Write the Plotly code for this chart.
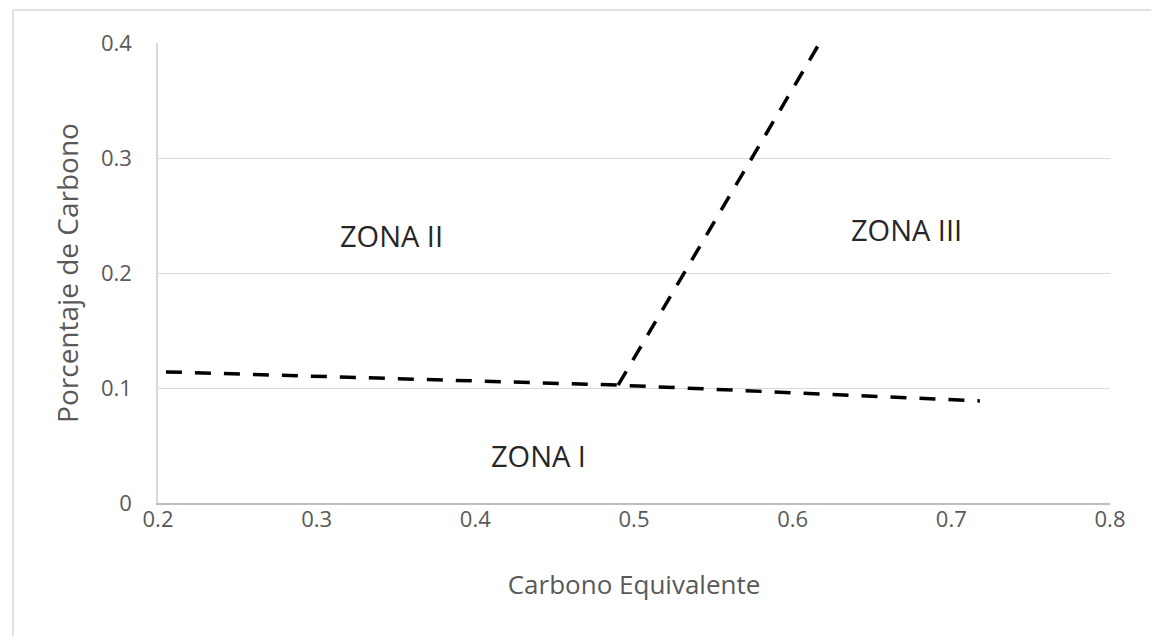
import plotly.graph_objects as go

# Data
line1_x = [0.205, 0.49, 0.718]
line1_y = [0.114, 0.1025, 0.0888]
line2_x = [0.49, 0.617]
line2_y = [0.1025, 0.40]

zone_labels = ["ZONA I", "ZONA II", "ZONA III"]
zone_x = [0.44, 0.347, 0.672]
zone_y = [0.041, 0.233, 0.238]

x_ticks = [0.2, 0.3, 0.4, 0.5, 0.6, 0.7, 0.8]
x_tick_text = ["0.2", "0.3", "0.4", "0.5", "0.6", "0.7", "0.8"]
y_ticks = [0, 0.1, 0.2, 0.3, 0.4]
y_tick_text = ["0", "0.1", "0.2", "0.3", "0.4"]

FONT = "Open Sans"
fig = go.Figure()
line_style = dict(color="black", width=3.5, dash="16px,13px")
fig.add_trace(go.Scatter(x=line1_x, y=line1_y, mode="lines", line=line_style,
                         showlegend=False, hoverinfo="skip"))
fig.add_trace(go.Scatter(x=line2_x, y=line2_y, mode="lines", line=line_style,
                         showlegend=False, hoverinfo="skip"))

for t, x, y in zip(zone_labels, zone_x, zone_y):
    fig.add_annotation(x=x, y=y, text=t, showarrow=False,
                       font=dict(family=FONT, size=29, color="#262626"))

# page has an 8px body margin, so offsets compensate for it
OFF = 8
W, H = 1159, 636
L, R, T, B = 158 - OFF, 49 + OFF, 43 - OFF, 133 + OFF
pw, ph = W - L - R, H - T - B
fig.add_shape(type="rect", xref="paper", yref="paper",
              x0=(13 - OFF - L) / pw, x1=(1153 - OFF - L) / pw,
              y0=(T + ph - (650 - OFF)) / ph, y1=(T + ph - (10 - OFF)) / ph,
              line=dict(color="#d9d9d9", width=1.5), layer="below")

fig.update_layout(
    width=W, height=H,
    margin=dict(l=L, r=R, t=T, b=B),
    paper_bgcolor="white", plot_bgcolor="white",
    font=dict(family=FONT, color="#595959"),
    xaxis=dict(range=[0.2, 0.8], tickvals=x_ticks, ticktext=x_tick_text,
               showgrid=False, zeroline=False,
               showline=True, linecolor="#bfbfbf", linewidth=1.5,
               tickfont=dict(size=22, color="#595959"),
               ticks="", ticklabelstandoff=-4,
               title=dict(text="Carbono Equivalente", standoff=44,
                          font=dict(size=26, color="#595959"))),
    yaxis=dict(range=[0, 0.4], tickvals=y_ticks, ticktext=y_tick_text,
               showgrid=True, gridcolor="#d9d9d9", gridwidth=1.2,
               zeroline=False, showline=True, linecolor="#d9d9d9", linewidth=1.5,
               tickfont=dict(size=22, color="#595959"),
               ticks="", ticklabelstandoff=20,
               title=dict(text="Porcentaje de Carbono", standoff=14,
                          font=dict(size=28, color="#595959"))),
)

fig.write_html("out.html")
